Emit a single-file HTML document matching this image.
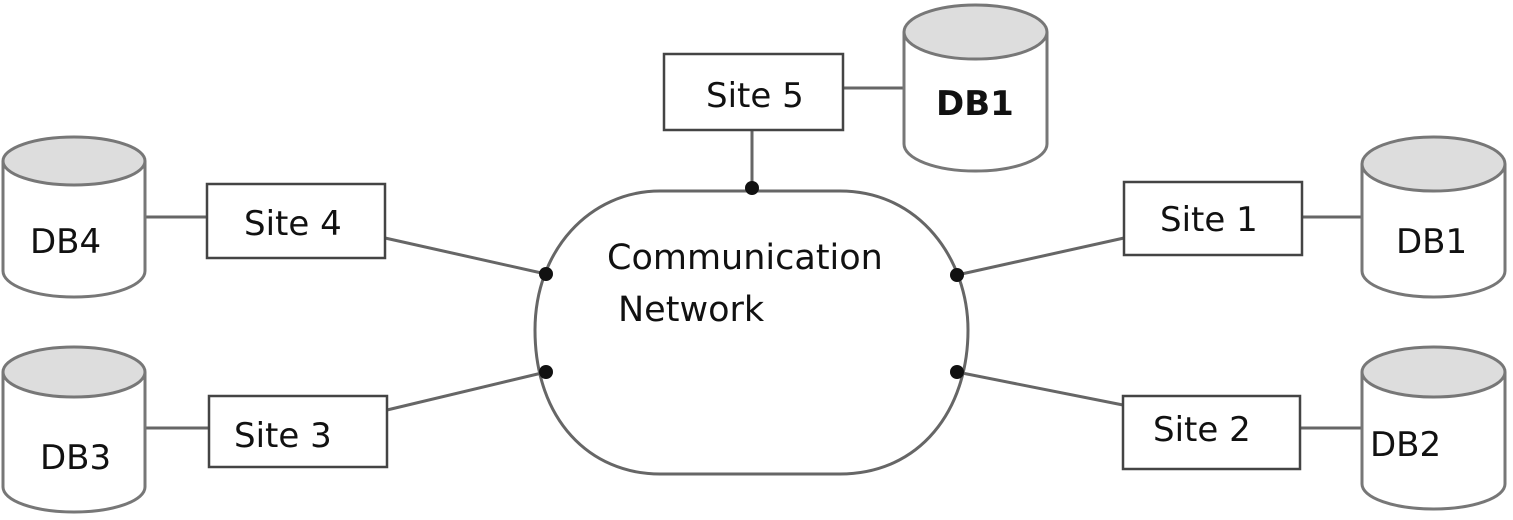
<!DOCTYPE html>
<html><head><meta charset="utf-8"><style>
html,body{margin:0;padding:0;background:#fff;}
svg{display:block;}
text{font-family:"DejaVu Sans","Liberation Sans",sans-serif;fill:#111;}
</style></head><body>
<svg width="1513" height="520" viewBox="0 0 1513 520" xmlns="http://www.w3.org/2000/svg">
<g stroke="#666" stroke-width="3" fill="none">
<line x1="752" y1="130" x2="752" y2="188"/>
<line x1="843" y1="88" x2="904" y2="88"/>
<line x1="145" y1="217" x2="207" y2="217"/>
<line x1="145" y1="428" x2="209" y2="428"/>
<line x1="385" y1="238" x2="546" y2="274"/>
<line x1="387" y1="410" x2="546" y2="372"/>
<line x1="1124" y1="238" x2="957" y2="275"/>
<line x1="1123" y1="405" x2="957" y2="372"/>
<line x1="1302" y1="217" x2="1362" y2="217"/>
<line x1="1300" y1="428" x2="1362" y2="428"/>
<path d="M660,191 L840,191 C920,191 968,260 968,330 C968,410 920,474 840,474 L660,474 C590,474 535,420 535,330 C535,250 590,191 660,191 Z" fill="#fff"/>
</g>
<g stroke="#444" stroke-width="2.5" fill="#fff">
<rect x="664" y="54" width="179" height="76"/>
<rect x="207" y="184" width="178" height="74"/>
<rect x="209" y="396" width="178" height="71"/>
<rect x="1124" y="182" width="178" height="73"/>
<rect x="1123" y="396" width="177" height="73"/>
</g>
<g stroke="#777" stroke-width="3">
<path d="M904,32 L904,144 A71.5,27 0 0 0 1047,144 L1047,32" fill="#fff"/>
<ellipse cx="975.5" cy="32" rx="71.5" ry="27" fill="#ddd"/>
<path d="M3,161 L3,271 A71,26 0 0 0 145,271 L145,161" fill="#fff"/>
<ellipse cx="74" cy="161" rx="71" ry="24" fill="#ddd"/>
<path d="M3,372 L3,487 A71,25 0 0 0 145,487 L145,372" fill="#fff"/>
<ellipse cx="74" cy="372" rx="71" ry="25" fill="#ddd"/>
<path d="M1362,164 L1362,271 A71.5,26 0 0 0 1505,271 L1505,164" fill="#fff"/>
<ellipse cx="1433.5" cy="164" rx="71.5" ry="27" fill="#ddd"/>
<path d="M1362,372 L1362,484 A71.5,25 0 0 0 1505,484 L1505,372" fill="#fff"/>
<ellipse cx="1433.5" cy="372" rx="71.5" ry="25" fill="#ddd"/>
</g>
<g fill="#111">
<circle cx="752" cy="188" r="7"/>
<circle cx="546" cy="274" r="7"/>
<circle cx="546" cy="372" r="7"/>
<circle cx="957" cy="275" r="7"/>
<circle cx="957" cy="372" r="7"/>
</g>
<g font-size="34">
<text x="706" y="107">Site 5</text>
<text x="936" y="115" font-weight="bold">DB1</text>
<text x="244" y="235">Site 4</text>
<text x="30" y="253">DB4</text>
<text x="234" y="447">Site 3</text>
<text x="40" y="469">DB3</text>
<text x="1160" y="231">Site 1</text>
<text x="1396" y="253">DB1</text>
<text x="1153" y="441">Site 2</text>
<text x="1370" y="456">DB2</text>
<text x="607" y="269" font-size="35">Communication</text>
<text x="618" y="321" font-size="35">Network</text>
</g>
</svg>
</body></html>
